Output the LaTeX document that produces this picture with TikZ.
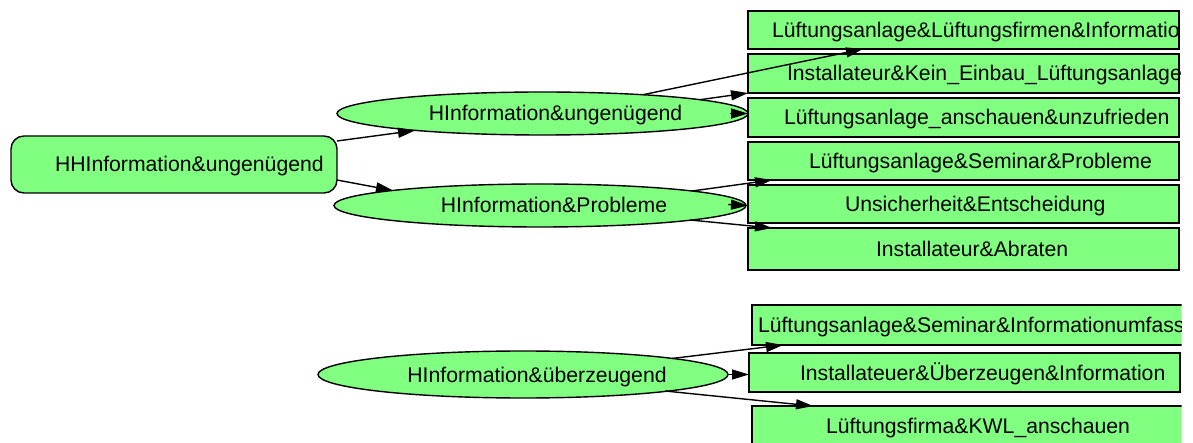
\documentclass[tikz,border=0pt]{standalone}
\usepackage{fontspec}
\setmainfont{Liberation Sans}
\usetikzlibrary{shapes.geometric,arrows.meta,calc}
\definecolor{nodegreen}{HTML}{80FF80}
\newcommand\padtext[3]{\makebox[#1pt][l]{\hspace*{#2pt}\raisebox{0pt}[15pt][0pt]{#3}}}
\newcommand\shifttext[2]{\makebox[0pt]{\hspace*{#1pt}\raisebox{0pt}[15pt][0pt]{#2}}}
\begin{document}
\begin{tikzpicture}[x=1pt,y=-1pt,
  every node/.style={font=\fontsize{21.2}{25}\selectfont, inner sep=0pt, outer sep=0pt},
  rbox/.style={draw=black, fill=nodegreen, line width=1.4pt, rectangle},
  rootbox/.style={rbox, rounded corners=13pt},
  ell/.style={draw=black, fill=nodegreen, line width=1.4pt, ellipse},
  arr/.style={line width=1.4pt, -{Triangle[length=17pt,width=10pt]}}]
\useasboundingbox (0,0) rectangle (1193,443);
\begin{scope}
\clip (-1,-1) rectangle (1181.6,444);
% root
\node[rootbox, minimum height=57] (root) at (174,164.5) {\padtext{326}{44}{HHInformation\&ungenügend}};
% ellipses
\node[ell, minimum width=411, minimum height=43] (e1) at (542.5,113.5) {\shifttext{26}{HInformation\&ungenügend}};
\node[ell, minimum width=412, minimum height=43] (e2) at (540,205.5) {\shifttext{28}{HInformation\&Probleme}};
\node[ell, minimum width=410, minimum height=47] (e3) at (523,374.5) {\shifttext{28}{HInformation\&überzeugend}};
% boxes
\node[rbox, minimum height=38] (b1) at (963.5,30) {\padtext{431}{24}{Lüftungsanlage\&Lüftungsfirmen\&Informatio}};
\node[rbox, minimum height=39] (b2) at (963.5,73.5) {\padtext{431}{39}{Installateur\&Kein\_Einbau\_Lüftungsanlage}};
\node[rbox, minimum height=39] (b3) at (963.5,117.5) {\padtext{431}{36}{Lüftungsanlage\_anschauen\&unzufrieden}};
\node[rbox, minimum height=38] (b4) at (963.5,161) {\padtext{431}{61}{Lüftungsanlage\&Seminar\&Probleme}};
\node[rbox, minimum height=38] (b5) at (963.5,204) {\padtext{431}{97}{Unsicherheit\&Entscheidung}};
\node[rbox, minimum height=42] (b6) at (963.5,249) {\padtext{431}{128}{Installateur\&Abraten}};
\node[rbox, minimum height=40] (b7) at (967.5,325) {\padtext{431}{6}{Lüftungsanlage\&Seminar\&Informationumfass}};
\node[rbox, minimum height=39] (b8) at (964.5,372.5) {\padtext{431}{51}{Installateuer\&Überzeugen\&Information}};
\node[rbox, minimum height=40] (b9) at (967.5,426) {\padtext{431}{74}{Lüftungsfirma\&KWL\_anschauen}};
% edges
\draw[arr] ([shift={(163,-23.5)}]root.center) -- ([shift={(-127.5,17)}]e1.center);
\draw[arr] ([shift={(163,15.5)}]root.center) -- ([shift={(-147,-15)}]e2.center);
\draw[arr] ([shift={(100.5,-18.8)}]e1.center) -- ([shift={(-100.5,19)}]b1.center);
\draw[arr] ([shift={(157.5,-13.8)}]e1.center) -- (b2.south west);
\draw[arr] ([shift={(187.5,0)}]e1.center) -- (b3.west |- e1.center);
\draw[arr] ([shift={(152,-14.5)}]e2.center) -- ([shift={(-191.5,19)}]b4.center);
\draw[arr] ([shift={(188,-1)}]e2.center) -- (b5.west |- e2.center);
\draw[arr] ([shift={(150,14.5)}]e2.center) -- ([shift={(-191.5,-21)}]b6.center);
\draw[arr] ([shift={(149,-16)}]e3.center) -- ([shift={(-184.5,20)}]b7.center);
\draw[arr] (e3.east) -- (b8.west |- e3.center);
\draw[arr] ([shift={(142,16.5)}]e3.center) -- ([shift={(-154.5,-20)}]b9.center);
\end{scope}
\end{tikzpicture}
\end{document}
